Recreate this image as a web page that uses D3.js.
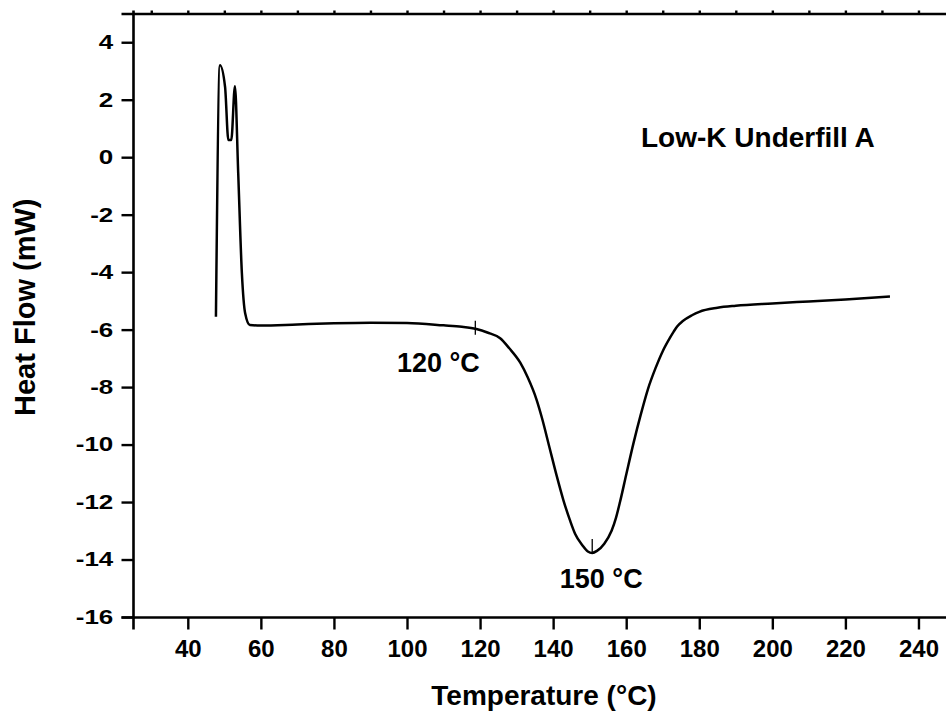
<!DOCTYPE html>
<html>
<head>
<meta charset="utf-8">
<script src="https://cdn.jsdelivr.net/npm/d3@7"></script>
<style>
  body { margin: 0; background: #fff; }
  svg text { font-family: "Liberation Sans", Arial, sans-serif; font-weight: bold; fill: #000; }
</style>
</head>
<body>
<div id="chart"></div>
<script>
// DSC trace
const temperature = [47.7, 48.8, 50.2, 51.1, 51.9, 52.9, 53.8, 54.8, 55.7, 57, 60, 70, 80, 90, 100, 110, 115, 119,
    122, 125.5, 128, 131, 133, 135.5, 137, 139, 141, 142.8, 144.6, 146, 148, 149.5, 150.7, 152, 154, 156, 157.2,
    158.3, 160, 162, 164, 166, 168, 170, 172, 173, 174, 175.5, 178, 180, 185, 190, 200, 210, 220, 232.2];
const heatFlow = [-5.55, 3.2, 2.45, 0.6, 0.6, 2.47, -0.56, -4.03, -5.43, -5.84, -5.86, -5.82, -5.78, -5.76, -5.77, -5.85, -5.9, -5.98,
    -6.1, -6.3, -6.65, -7.15, -7.65, -8.45, -9.1, -10.1, -11.1, -11.93, -12.63, -13.1, -13.5, -13.72, -13.77, -13.7, -13.45, -13.0, -12.55,
    -12.0, -11.05, -9.95, -8.95, -8.05, -7.35, -6.75, -6.28, -6.07, -5.88, -5.7, -5.5, -5.38, -5.24, -5.17, -5.09, -5.02, -4.95, -4.85];

const xMajorTicks = [40, 60, 80, 100, 120, 140, 160, 180, 200, 220, 240];
const xMinorTicks = [30, 50, 70, 90, 110, 130, 150, 170, 190, 210, 230, 250];
const yMajorTicks = [-16, -14, -12, -10, -8, -6, -4, -2, 0, 2, 4];
const yMinorTicks = [-15, -13, -11, -9, -7, -5, -3, -1, 1, 3, 5];

// peak markers
const markTemps = [118.7, 150.7];
const markLabels = ["120 °C", "150 °C"];

const width = 946, height = 713;
const plotLeft = 133, plotTop = 13.5, plotBottom = 617;

const svg = d3.select("#chart").append("svg")
    .attr("width", width)
    .attr("height", height);

const x = d3.scaleLinear().domain([25, 250]).range([plotLeft, 955]);
const y = d3.scaleLinear().domain([-16, 5]).range([plotBottom, plotTop]);

const fmt = d => String(d);

// bottom axis
const gx = svg.append("g").attr("transform", `translate(0,${plotBottom})`);
gx.call(d3.axisBottom(x).tickValues(xMinorTicks).tickSize(6).tickFormat(""));
gx.call(d3.axisBottom(x).tickValues(xMajorTicks).tickSize(12.5).tickPadding(10).tickFormat(fmt));

// left axis
const gy = svg.append("g").attr("transform", `translate(${plotLeft},0)`);
gy.call(d3.axisLeft(y).tickValues(yMinorTicks).tickSize(6).tickFormat(""));
gy.call(d3.axisLeft(y).tickValues(yMajorTicks).tickSize(11.5).tickFormat(fmt));

// top axis with tiny ticks
const gt = svg.append("g").attr("transform", `translate(0,${plotTop})`);
gt.call(d3.axisTop(x).tickValues(d3.range(30, 251, 10)).tickSize(3).tickFormat(""));

svg.selectAll(".domain").attr("stroke", "#000").attr("stroke-width", 2.6);
svg.selectAll(".tick line").attr("stroke", "#000").attr("stroke-width", 2.4);

gx.selectAll(".tick text").style("font-size", "24px");
gy.selectAll(".tick text")
    .style("font-size", "20px")
    .attr("x", -19.7 / 1.3)
    .attr("transform", "scale(1.3,1)");

// curve
const pts = temperature.map((t, i) => [t, heatFlow[i]]);
const line = d3.line()
    .x(d => x(d[0]))
    .y(d => y(d[1]))
    .curve(d3.curveMonotoneX);

svg.append("path")
    .datum(pts)
    .attr("d", line)
    .attr("fill", "none")
    .attr("stroke", "#000")
    .attr("stroke-width", 2.5)
    .attr("stroke-linejoin", "round");

// markers on curve
const hfAt = t => {
    const i = d3.bisectLeft(temperature, t);
    const a = i - 1, b = i;
    const f = (t - temperature[a]) / (temperature[b] - temperature[a]);
    return heatFlow[a] + f * (heatFlow[b] - heatFlow[a]);
};

svg.append("line")
    .attr("x1", x(markTemps[0])).attr("x2", x(markTemps[0]))
    .attr("y1", y(hfAt(markTemps[0])) - 8).attr("y2", y(hfAt(markTemps[0])) + 6)
    .attr("stroke", "#000").attr("stroke-width", 1.3);
svg.append("line")
    .attr("x1", x(markTemps[1])).attr("x2", x(markTemps[1]))
    .attr("y1", y(hfAt(markTemps[1])) - 14).attr("y2", y(hfAt(markTemps[1])))
    .attr("stroke", "#000").attr("stroke-width", 1.3);

svg.append("text")
    .attr("x", x(markTemps[0]) - 37)
    .attr("y", y(hfAt(markTemps[0])) + 43)
    .attr("text-anchor", "middle")
    .style("font-size", "27px")
    .text(markLabels[0]);
svg.append("text")
    .attr("x", x(markTemps[1]) + 9)
    .attr("y", y(hfAt(markTemps[1])) + 35)
    .attr("text-anchor", "middle")
    .style("font-size", "27px")
    .text(markLabels[1]);

// sample name
svg.append("text")
    .attr("x", 641)
    .attr("y", 146.7)
    .style("font-size", "28px")
    .text("Low-K Underfill A");

// axis titles
svg.append("text")
    .attr("x", 544)
    .attr("y", 705)
    .attr("text-anchor", "middle")
    .style("font-size", "28px")
    .text("Temperature (°C)");

svg.append("text")
    .attr("transform", `translate(35,${(plotTop + plotBottom) / 2 - 8}) rotate(-90)`)
    .attr("text-anchor", "middle")
    .style("font-size", "29px")
    .text("Heat Flow (mW)");
</script>
</body>
</html>
